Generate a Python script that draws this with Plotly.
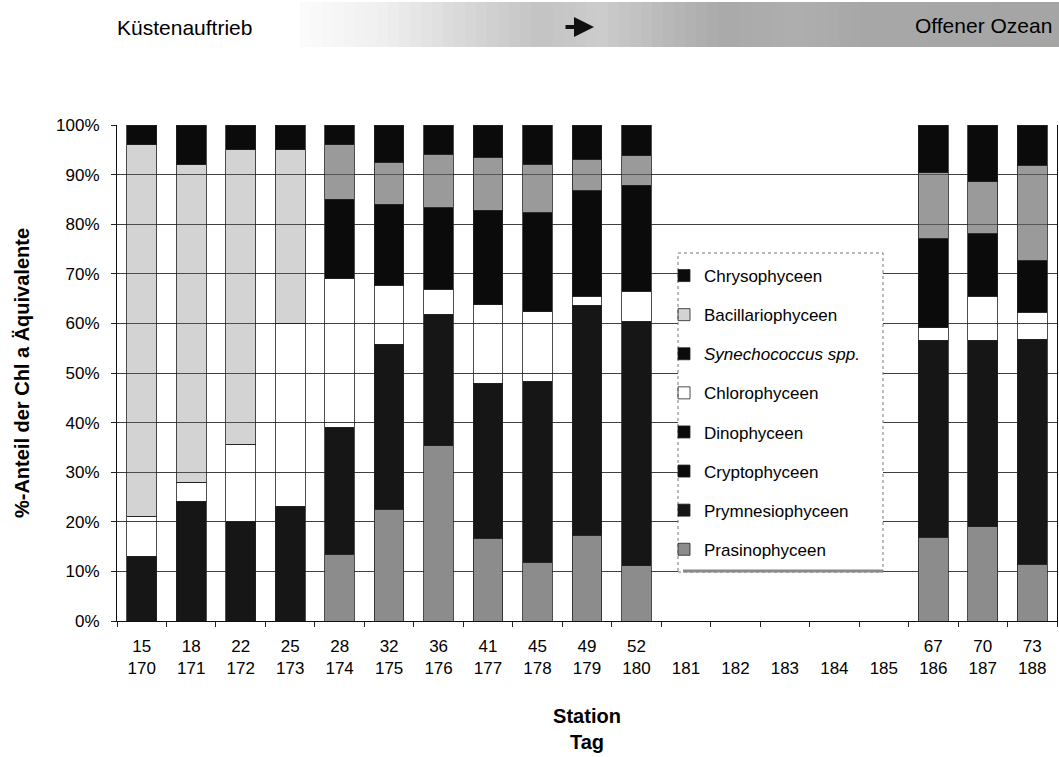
import numpy as np
import plotly.graph_objects as go

# ---- data: share of Chl a equivalents (%) per sampling day ----
N = None
tage = [str(t) for t in range(170, 189)]
stationen = ["15", "18", "22", "25", "28", "32", "36", "41", "45", "49", "52",
             "", "", "", "", "", "67", "70", "73"]

prasinophyceen = [0, 0, 0, 0, 13.5, 22.5, 35.3, 16.7, 11.8, 17.3, 11.1,
                  N, N, N, N, N, 16.9, 19.0, 11.4]
prymnesiophyceen = [13.0, 24.0, 20.0, 23.0, 25.5, 33.3, 26.5, 31.2, 36.5, 46.4, 49.2,
                    N, N, N, N, N, 39.7, 37.6, 45.4]
cryptophyceen = [0, 0, 0, 0, 0, 0, 0, 0, 0, 0, 0, N, N, N, N, N, 0, 0, 0]
dinophyceen = [0, 0, 0, 0, 0, 0, 0, 0, 0, 0, 0, N, N, N, N, N, 0, 0, 0]
chlorophyceen = [8.0, 4.0, 15.5, 37.0, 30.0, 11.9, 5.1, 15.9, 14.0, 1.8, 6.2,
                 N, N, N, N, N, 2.5, 8.9, 5.4]
synechococcus = [0, 0, 0, 0, 16.0, 16.3, 16.4, 19.0, 20.0, 21.2, 21.4,
                 N, N, N, N, N, 18.0, 12.6, 10.4]
bacillariophyceen = [75.0, 64.0, 59.5, 35.0, 11.0, 8.5, 10.8, 10.7, 9.8, 6.4, 5.9,
                     N, N, N, N, N, 13.3, 10.5, 19.3]
chrysophyceen = [4.0, 8.0, 5.0, 5.0, 4.0, 7.5, 5.9, 6.5, 7.9, 6.9, 6.2,
                 N, N, N, N, N, 9.6, 11.4, 8.1]

# ---- layout geometry (pixels) ----
W, H = 1059, 757
ML, MR, MT, MB = 117, 2, 125, 136
PW, PH = W - ML - MR, H - MT - MB


def px(x):
    return (x - ML) / PW


def py(y):
    return (H - MB - y) / PH


FONT = "Liberation Sans, Arial, Helvetica, sans-serif"
BLACK = "#0b0b0b"
TEXT = "#000000"

# Bacillariophyceen: coastal upwelling bars are printed in a lighter screen
bac_colors = ["rgba(110,110,110,0.30)" if i < 4 else "rgba(100,100,100,0.65)"
              for i in range(len(tage))]

series = [
    ("Prasinophyceen", prasinophyceen, "#8c8c8c"),
    ("Prymnesiophyceen", prymnesiophyceen, "#161616"),
    ("Cryptophyceen", cryptophyceen, BLACK),
    ("Dinophyceen", dinophyceen, BLACK),
    ("Chlorophyceen", chlorophyceen, "rgba(255,255,255,0)"),
    ("<i>Synechococcus spp.</i>", synechococcus, BLACK),
    ("Bacillariophyceen", bacillariophyceen, bac_colors),
    ("Chrysophyceen", chrysophyceen, BLACK),
]

fig = go.Figure()
for i, (name, vals, col) in enumerate(series):
    fig.add_trace(go.Bar(
        x=tage, y=vals, name=name, legendgroup=f"g{i}",
        legendrank=100 - i,
        marker=dict(color=col, line=dict(color="#222222", width=0.8)),
    ))

fig.update_layout(
    width=W, height=H,
    margin=dict(l=ML, r=MR, t=MT, b=MB, autoexpand=False),
    barmode="stack", bargap=0.40,
    plot_bgcolor="white", paper_bgcolor="white",
    font=dict(family=FONT, color=TEXT, size=17),
    showlegend=True,
    legend=dict(
        x=px(664), y=py(258), xanchor="left", yanchor="top",
        bgcolor="rgba(0,0,0,0)", borderwidth=0,
        traceorder="grouped", tracegroupgap=14,
        font=dict(family=FONT, size=17, color=TEXT),
    ),
    xaxis=dict(
        type="category", categoryorder="array", categoryarray=tage,
        tickmode="array", tickvals=tage,
        ticktext=[f"{s}<br>{t}" for s, t in zip(stationen, tage)],
        ticks="outside", ticklen=5, tickcolor="#222", tickson="boundaries",
        showline=True, linecolor="#111", linewidth=1.2,
        showgrid=False, ticklabelstandoff=9,
        tickfont=dict(size=17, color=TEXT),
        title=dict(text="<b>Station<br>Tag</b>", standoff=32,
                   font=dict(size=20, family=FONT, color=TEXT)),
    ),
    yaxis=dict(
        range=[0, 100], dtick=10, ticksuffix="%",
        ticks="outside", ticklen=5, tickcolor="#222",
        showline=True, linecolor="#111", linewidth=1.2, mirror=True,
        showgrid=True, gridcolor="#404040", gridwidth=1,
        zeroline=False, ticklabelstandoff=8,
        tickfont=dict(size=17, color=TEXT),
        title=dict(text="<b>%-Anteil der Chl a Äquivalente</b>", standoff=21,
                   font=dict(size=20, family=FONT, color=TEXT)),
    ),
)

shapes = []
# legend frame
shapes.append(dict(type="rect", xref="paper", yref="paper",
                   x0=px(678), x1=px(883), y0=py(572), y1=py(253),
                   fillcolor="white", line=dict(color="#777", width=1, dash="dot"),
                   layer="above"))
shapes.append(dict(type="line", xref="paper", yref="paper",
                   x0=px(683), x1=px(883), y0=py(571), y1=py(571),
                   line=dict(color="#8a8a8a", width=3), layer="above"))

# banner: gradient from coastal upwelling to open ocean
stops_x = [300, 380, 470, 540, 600, 650, 720, 800, 860, 1059]
stops_g = [252, 240, 215, 195, 205, 190, 170, 175, 168, 165]
edges = np.linspace(300, 1059, 70)
for a, b in zip(edges[:-1], edges[1:]):
    g = int(np.interp((a + b) / 2, stops_x, stops_g))
    shapes.append(dict(type="rect", xref="paper", yref="paper",
                       x0=px(a), x1=px(b) + 0.0005, y0=py(47), y1=py(2),
                       fillcolor=f"rgb({g},{g},{g})", line=dict(width=0),
                       layer="above"))
fig.update_layout(shapes=shapes)

fig.add_annotation(text="Küstenauftrieb", xref="paper", yref="paper",
                   x=px(115), y=py(27), xanchor="left", yanchor="middle",
                   showarrow=False, font=dict(size=21, family=FONT, color=TEXT))
fig.add_annotation(text="Offener Ozean", xref="paper", yref="paper",
                   x=px(1054), y=py(26), xanchor="right", yanchor="middle",
                   showarrow=False, font=dict(size=21, family=FONT, color=TEXT))
fig.add_annotation(text="", xref="paper", yref="paper",
                   x=px(594), y=py(27), ax=-30, ay=0, axref="pixel", ayref="pixel",
                   showarrow=True, arrowhead=2, arrowsize=1, arrowwidth=4,
                   arrowcolor="#111")

fig.write_html("out.html")
